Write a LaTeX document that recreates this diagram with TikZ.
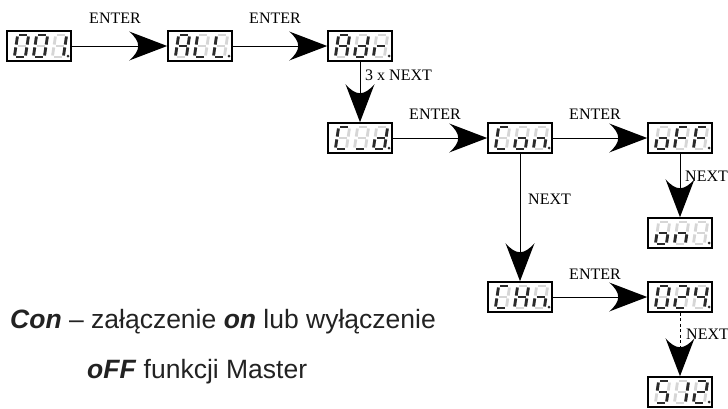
\documentclass[tikz,border=0pt]{standalone}
\usepackage{fontspec}
\setmainfont{Liberation Serif}
\newfontfamily\txtfont{Liberation Sans}
\usetikzlibrary{arrows.meta}
\definecolor{segd}{HTML}{2A2A2A}
\definecolor{segl}{HTML}{D6D6D6}
\definecolor{txtc}{HTML}{222222}

\pgfdeclarearrow{
  name = Swoosh,
  setup code = {
    \pgfarrowssettipend{0pt}
    \pgfarrowssetlineend{-28pt}
    \pgfarrowssetbackend{-38pt}
  },
  drawing code = {
    \pgfpathmoveto{\pgfqpoint{0pt}{0pt}}
    \pgfpathlineto{\pgfqpoint{-38pt}{14.5pt}}
    \pgfpathcurveto{\pgfqpoint{-26pt}{4pt}}{\pgfqpoint{-26pt}{-4pt}}{\pgfqpoint{-38pt}{-14.5pt}}
    \pgfpathclose
    \pgfusepathqfill
  }
}

\def\segpa{(-4pt,11pt) -- (4pt,11pt)}
\def\segpb{(5.5pt,9.5pt) -- (5.5pt,1.4pt)}
\def\segpc{(5.5pt,-1.4pt) -- (5.5pt,-9.5pt)}
\def\segpd{(-4pt,-11pt) -- (4pt,-11pt)}
\def\segpe{(-5.5pt,-1.4pt) -- (-5.5pt,-9.5pt)}
\def\segpf{(-5.5pt,9.5pt) -- (-5.5pt,1.4pt)}
\def\segpg{(-4pt,0pt) -- (4pt,0pt)}
\def\segpz{(0pt,0pt)}

\newcommand{\sdig}[3]{%
  \begin{scope}[shift={({#1},{#2})}, xslant=0.15]
    \foreach \s in {a,b,c,d,e,f,g} {%
      \edef\segtmp{\noexpand\draw[seglight] \csname segp\s\endcsname;}\segtmp}
    \foreach \s in {#3} {%
      \edef\segtmp{\noexpand\draw[segdark] \csname segp\s\endcsname;}\segtmp}
  \end{scope}}

\newcommand{\disp}[6]{%
  \node[disp] (#1) at (#2,#3) {};
  \sdig{#2-17.5}{#3}{#4}
  \sdig{#2+1.5}{#3}{#5}
  \sdig{#2+20.5}{#3}{#6}
  \fill[segd] ({#2+29},{#3+10}) circle (1.5pt);
}

\tikzset{
  disp/.style={draw=black, line width=1.6pt, fill=white, minimum width=64pt, minimum height=30pt, inner sep=0pt},
  segdark/.style={draw=segd, line width=2.8pt},
  seglight/.style={draw=segl, line width=2.8pt},
  conn/.style={draw=black, line width=0.9pt, -{Swoosh}},
  conndash/.style={conn, dash pattern=on 3pt off 2.5pt},
  lbl/.style={font=\fontsize{16}{18}\selectfont, inner sep=0pt},
  txt/.style={font=\txtfont\fontsize{26.5}{30}\selectfont, text=txtc, inner sep=0pt}
}

\begin{document}
\begin{tikzpicture}[x=1pt, y=-1pt]
\useasboundingbox (0,0) rectangle (728,408);

\disp{n001}{39}{46}{a,b,c,d,e,f}{a,b,c,d,e,f}{b,c}
\disp{nALL}{200}{46}{a,b,c,e,f,g}{d,e,f}{d,e,f}
\disp{nAdr}{360}{46}{a,b,c,e,f,g}{b,c,d,e,g}{e,g}
\disp{nCd}{360}{138}{a,d,e,f}{d}{b,c,d,e,g}
\disp{nCon}{520}{138}{a,d,e,f}{c,d,e,g}{c,e,g}
\disp{noFF}{680}{138}{c,d,e,g}{a,e,f,g}{a,e,f,g}
\disp{non}{680}{233}{c,d,e,g}{c,e,g}{z}
\disp{nCHn}{520}{297}{a,d,e,f}{b,c,e,f,g}{c,e,g}
\disp{n024}{680}{297}{a,b,c,d,e,f}{a,b,d,e,g}{b,c,f,g}
\disp{n512}{680}{392}{a,c,d,f,g}{b,c}{a,b,d,e,g}

\draw[conn] (n001) -- (nALL);
\draw[conn] (nALL) -- (nAdr);
\draw[conn] (nAdr) -- (nCd);
\draw[conn] (nCd) -- (nCon);
\draw[conn] (nCon) -- (noFF);
\draw[conn] (noFF) -- (non);
\draw[conn] (nCon) -- (nCHn);
\draw[conn] (nCHn) -- (n024);
\draw[conndash] (n024) -- (n512);

\node[lbl] (e1) at (115,18) {ENTER};
\node[lbl] (e2) at (275,18) {ENTER};
\node[lbl, anchor=west] (x1) at (365,75) {3 x NEXT};
\node[lbl] (e3) at (435,114) {ENTER};
\node[lbl] (e4) at (595,114) {ENTER};
\node[lbl, anchor=west] (x2) at (685,176) {NEXT};
\node[lbl, anchor=west] (x3) at (528,199) {NEXT};
\node[lbl] (e5) at (595,274) {ENTER};
\node[lbl, anchor=west] (x4) at (686,334) {NEXT};

\node[txt, anchor=base west] (t1) at (10,328) {\textbf{\textit{Con}} – załączenie \textbf{\textit{on}} lub wyłączenie};
\node[txt, anchor=base west] (t2) at (87,378) {\textbf{\textit{oFF}} funkcji Master};
\end{tikzpicture}
\end{document}
